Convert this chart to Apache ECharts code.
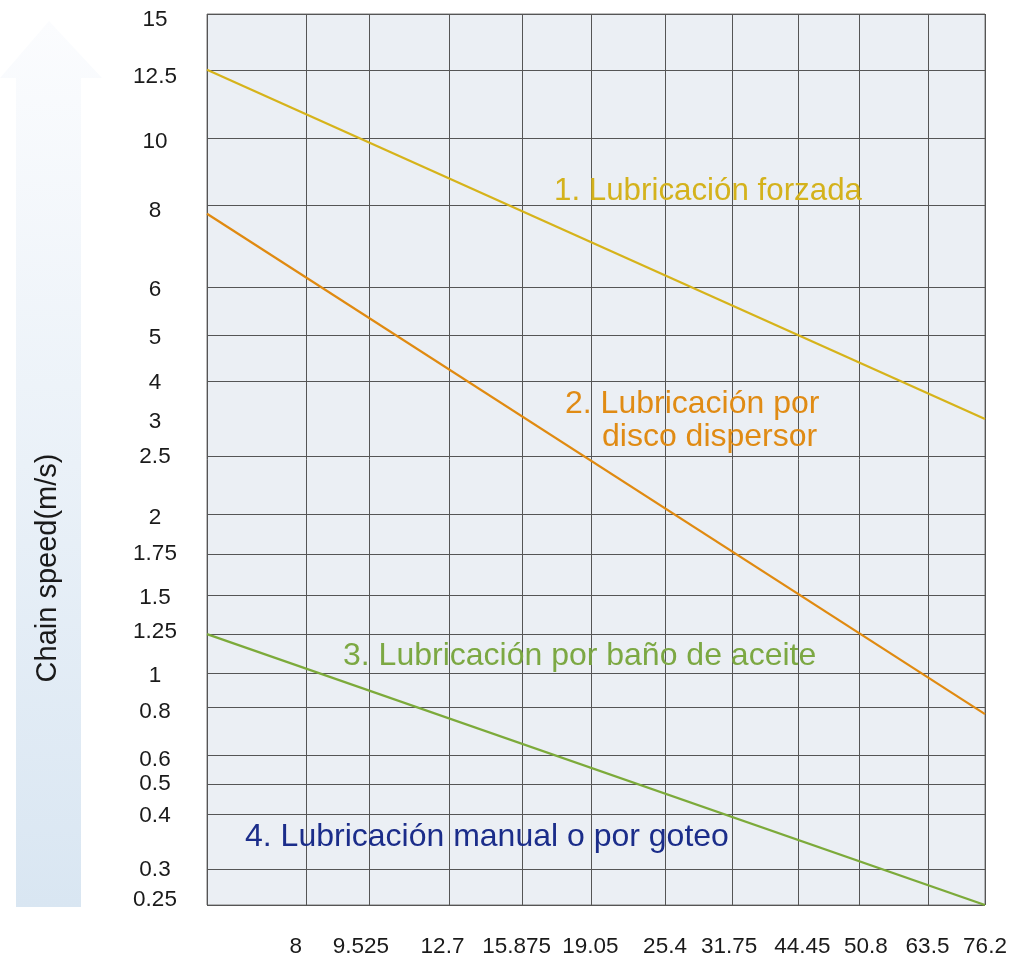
<!DOCTYPE html>
<html>
<head>
<meta charset="utf-8">
<script src="https://cdn.jsdelivr.net/npm/echarts@6/dist/echarts.min.js"></script>
<style>
  html, body { margin: 0; padding: 0; background: #fff; }
  #chart { width: 1024px; height: 958px; }
</style>
</head>
<body>
<div id="chart"></div>
<script>
// chain pitch (mm) on x; the left edge is 6.35 and carries no label
const pitchTicks = [6.35, 8, 9.525, 12.7, 15.875, 19.05, 25.4, 31.75, 44.45, 50.8, 63.5, 76.2];
const pitchLabels = ['', '8', '9.525', '12.7', '15.875', '19.05', '25.4', '31.75', '44.45', '50.8', '63.5', '76.2'];

// chain speed (m/s) on y; 3 has a label but no grid line
const speedTicks = [15, 12.5, 10, 8, 6, 5, 4, 3, 2.5, 2, 1.75, 1.5, 1.25, 1, 0.8, 0.6, 0.5, 0.4, 0.3, 0.25];
const speedLabels = ['15', '12.5', '10', '8', '6', '5', '4', '3', '2.5', '2', '1.75', '1.5', '1.25', '1', '0.8', '0.6', '0.5', '0.4', '0.3', '0.25'];
const speedNoGrid = [3];

// boundary lines, [pitch, speed]
const forced = [[6.35, 12.5], [76.2, 3.0]];
const disc = [[6.35, 7.8], [76.2, 0.77]];
const bath = [[6.35, 1.25], [76.2, 0.25]];

// the chart's scales are hand drawn (neither linear nor log):
// share of the axis length where each tick sits, and where its label sits
const pitchScale = [0, 0.1272, 0.2082, 0.3111, 0.4049, 0.4936, 0.5887, 0.6748, 0.7596, 0.8380, 0.9267, 1];
const pitchLabelScale = [0, 0.1140, 0.1977, 0.3027, 0.3981, 0.4929, 0.5887, 0.6710, 0.7654, 0.8468, 0.9261, 1];
const speedScale = [1, 0.9373, 0.8611, 0.7850, 0.6932, 0.6394, 0.5879, 0.5454, 0.5039, 0.4384,
  0.3931, 0.3477, 0.3040, 0.2598, 0.2225, 0.1676, 0.1358, 0.1019, 0.0403, 0];
const speedLabelScale = [0.9930, 0.9295, 0.8567, 0.7789, 0.6910, 0.6361, 0.5857, 0.5423, 0.5031, 0.4349,
  0.3939, 0.3449, 0.3071, 0.2576, 0.2165, 0.1635, 0.1355, 0.0997, 0.0392, 0.0056];

function toScale(v, ticks, scale) {
  for (let i = 0; i < ticks.length - 1; i++) {
    let a = ticks[i], b = ticks[i + 1];
    if ((v - a) * (v - b) <= 0) {
      return scale[i] + (v - a) / (b - a) * (scale[i + 1] - scale[i]);
    }
  }
  return null;
}
function labelAt(pos, scale, labels) {
  for (let i = 0; i < scale.length; i++) {
    if (Math.abs(scale[i] - pos) < 1e-6) return labels[i];
  }
  return '';
}
function mapLine(pts) {
  return pts.map(p => [toScale(p[0], pitchTicks, pitchScale), toScale(p[1], speedTicks, speedScale)]);
}

const font = '"Liberation Sans", Arial, sans-serif';
const xLabelPos = pitchLabelScale.filter((s, i) => pitchLabels[i] !== '');
const yGridPos = speedScale.filter((s, i) => speedNoGrid.indexOf(speedTicks[i]) < 0);

let myChart = echarts.init(document.getElementById('chart'));
myChart.setOption({
  animation: false,
  grid: {
    left: 207, right: 39, top: 14, bottom: 51,
    show: true,
    backgroundColor: '#ebeff4',
    borderColor: '#7a7a7a',
    borderWidth: 1
  },
  xAxis: {
    type: 'value',
    min: 0,
    max: 1,
    axisLine: { show: false },
    axisTick: { show: false, customValues: pitchScale },
    splitLine: { show: true, lineStyle: { color: '#555', width: 1 } },
    axisLabel: {
      customValues: xLabelPos,
      formatter: v => labelAt(v, pitchLabelScale, pitchLabels),
      fontSize: 22.5,
      fontFamily: font,
      color: '#1a1a1a',
      margin: 30
    }
  },
  yAxis: {
    type: 'value',
    min: 0,
    max: 1,
    axisLine: { show: false },
    axisTick: { show: false, customValues: yGridPos },
    splitLine: { show: true, lineStyle: { color: '#555', width: 1 } },
    axisLabel: {
      customValues: speedLabelScale,
      formatter: v => labelAt(v, speedLabelScale, speedLabels),
      fontSize: 22.5,
      fontFamily: font,
      color: '#1a1a1a',
      align: 'center',
      margin: 52
    }
  },
  graphic: [
    {
      type: 'polygon',
      z: -10,
      shape: { points: [[49, 21], [102, 78], [81, 78], [81, 907], [16, 907], [16, 78], [0, 78]] },
      style: {
        fill: new echarts.graphic.LinearGradient(0, 0, 0, 1, [
          { offset: 0, color: '#fbfcfe' },
          { offset: 1, color: '#d9e6f2' }
        ])
      }
    },
    {
      type: 'text', x: 48, y: 568, rotation: Math.PI / 2,
      style: { text: 'Chain speed(m/s)', font: '29px ' + font, fill: '#1a1a1a', align: 'center', verticalAlign: 'middle' }
    },
    {
      type: 'text', x: 554, y: 191, z: 10,
      style: { text: '1. Lubricación forzada', font: '31.3px ' + font, fill: '#d4b21c', verticalAlign: 'middle' }
    },
    {
      type: 'text', x: 565, y: 404, z: 10,
      style: { text: '2. Lubricación por', font: '32px ' + font, fill: '#e08b14', verticalAlign: 'middle' }
    },
    {
      type: 'text', x: 602, y: 437, z: 10,
      style: { text: 'disco dispersor', font: '32px ' + font, fill: '#e08b14', verticalAlign: 'middle' }
    },
    {
      type: 'text', x: 343, y: 656, z: 10,
      style: { text: '3. Lubricación por baño de aceite', font: '32px ' + font, fill: '#7ca843', verticalAlign: 'middle' }
    },
    {
      type: 'text', x: 245, y: 837, z: 10,
      style: { text: '4. Lubricación manual o por goteo', font: '32px ' + font, fill: '#1b2d8a', verticalAlign: 'middle' }
    }
  ],
  series: [
    {
      name: '1. Lubricación forzada',
      type: 'line',
      symbol: 'none',
      lineStyle: { color: '#d6b31a', width: 2.2 },
      data: mapLine(forced)
    },
    {
      name: '2. Lubricación por disco dispersor',
      type: 'line',
      symbol: 'none',
      lineStyle: { color: '#e08a10', width: 2.2 },
      data: mapLine(disc)
    },
    {
      name: '3. Lubricación por baño de aceite',
      type: 'line',
      symbol: 'none',
      lineStyle: { color: '#7caa3a', width: 2.2 },
      data: mapLine(bath)
    }
  ]
});
</script>
</body>
</html>
